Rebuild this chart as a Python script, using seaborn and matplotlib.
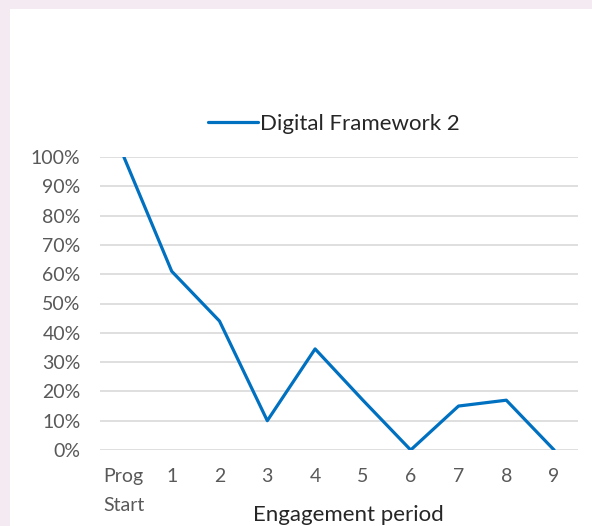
import pandas as pd
import matplotlib
matplotlib.use("Agg")
import matplotlib.pyplot as plt
import seaborn as sns
from matplotlib.patches import Rectangle
from matplotlib.ticker import PercentFormatter

periods = ["Prog\nStart", "1", "2", "3", "4", "5", "6", "7", "8", "9"]
retention = [1.00, 0.61, 0.44, 0.10, 0.345, 0.17, 0.0, 0.15, 0.17, 0.0]
series_name = "Digital Framework 2"

sns.set_style("white")
plt.rcParams['font.family'] = ['Lato', 'DejaVu Sans']

df = pd.DataFrame({"period": periods, "value": retention, "series": series_name})
df["pos"] = range(len(periods))

fig = plt.figure(figsize=(5.92, 5.26), dpi=100)
fig.patch.set_facecolor("#f4eaf1")
# white card behind the chart
fig.patches.append(Rectangle((10 / 592, 0), 582 / 592, 517 / 526,
                             transform=fig.transFigure, facecolor="white",
                             edgecolor="none", zorder=-5))

ax = fig.add_axes([100 / 592, 1 - 450 / 526, 478 / 592, 293 / 526])
ax.set_zorder(2)
ax.set_facecolor("white")

sns.lineplot(data=df, x="pos", y="value", hue="series", palette=["#0070C0"],
             linewidth=2.3, ax=ax, zorder=3)

ax.set_xlim(-0.5, 9.5)
ax.set_ylim(0, 1)
ax.set_yticks([i / 10 for i in range(11)])
ax.yaxis.set_major_formatter(PercentFormatter(1.0, decimals=0))
ax.set_xticks(range(len(periods)))
ax.set_xticklabels(periods, ha="center", va="top")
for lbl in ax.get_xticklabels():
    lbl.set_multialignment("left")
    lbl.set_linespacing(1.85)
ax.grid(axis="y", color="#d9d9d9", linewidth=1.2)
ax.set_axisbelow(True)
for s in ax.spines.values():
    s.set_visible(False)
ax.tick_params(axis="both", length=0, labelsize=14, labelcolor="#595959")
ax.tick_params(axis="x", pad=13)
ax.tick_params(axis="y", pad=14)

ax.set_xlabel("Engagement period", fontsize=16, color="#262626", va="center")
ax.xaxis.set_label_coords(0.52, -0.222)
ax.set_ylabel("")

leg = ax.legend(loc="center", bbox_to_anchor=(0.49, 1.113), frameon=False,
                fontsize=16, handlelength=2.25, handletextpad=0.1,
                borderpad=0, borderaxespad=0)
for t in leg.get_texts():
    t.set_color("#262626")

fig.savefig("out.png", dpi=100, facecolor=fig.get_facecolor())
